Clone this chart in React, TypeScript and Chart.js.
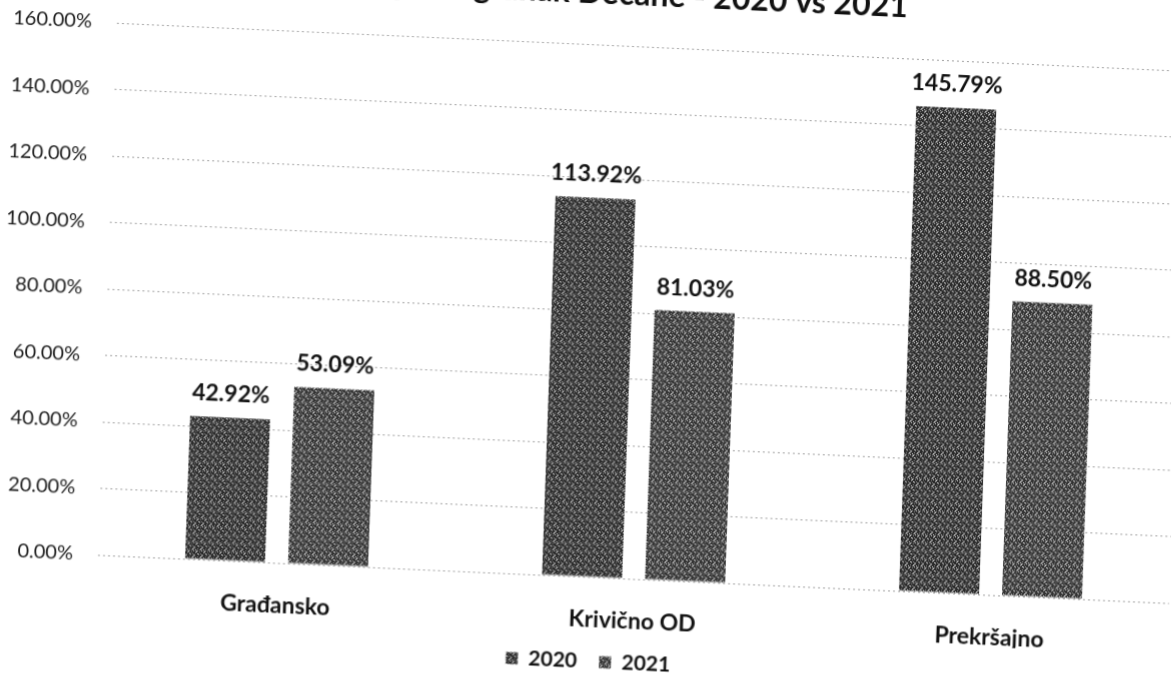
import React, { useEffect, useRef } from "react";
import { Chart, registerables } from "chart.js";

Chart.register(...registerables);

const categories = ["Građansko", "Krivično OD", "Prekršajno"];
const seriesNames = ["2020", "2021"];
const values2020 = [42.92, 113.92, 145.79];
const values2021 = [53.09, 81.03, 88.5];
const yMin = 0;
const yMax = 160;
const yStep = 20;
const titleText = "Stopa rešavanja - Ogranak Dečane - 2020 vs 2021";

const FONT = "Lato, 'Open Sans', sans-serif";

// canvas geometry (unskewed frame)
const CW = 1236;
const CH = 730;
const OX = 124; // skew origin inside canvas
const OY = 620;

function makePattern(base: string, mid: string, light: string): CanvasPattern | string {
  const c = document.createElement("canvas");
  c.width = 8;
  c.height = 8;
  const g = c.getContext("2d");
  if (!g) return base;
  g.fillStyle = base;
  g.fillRect(0, 0, 8, 8);
  for (let i = 0; i < 8; i++) {
    for (let j = 0; j < 8; j++) {
      if ((i * 3 + j * 5) % 7 === 0) {
        g.fillStyle = mid;
        g.fillRect(i, j, 1, 1);
      } else if ((i * 5 + j * 3) % 11 === 0) {
        g.fillStyle = light;
        g.fillRect(i, j, 1, 1);
      } else if ((i + j * 2) % 9 === 0) {
        g.fillStyle = mid;
        g.fillRect(i, j, 1, 1);
      }
    }
  }
  const p = g.createPattern(c, "repeat");
  return p || base;
}

const dataLabelPlugin = {
  id: "barValueLabels",
  afterDatasetsDraw(chart: any) {
    const ctx = chart.ctx;
    ctx.save();
    ctx.font = `bold 23px ${FONT}`;
    ctx.fillStyle = "#111";
    ctx.textAlign = "center";
    ctx.textBaseline = "alphabetic";
    chart.data.datasets.forEach((ds: any, di: number) => {
      const meta = chart.getDatasetMeta(di);
      meta.data.forEach((el: any, i: number) => {
        const v = ds.data[i] as number;
        ctx.fillText(v.toFixed(2) + "%", el.x, el.y - 16);
      });
    });
    ctx.restore();
  },
};

const titlePlugin = {
  id: "clippedTitle",
  afterDraw(chart: any) {
    const ctx = chart.ctx;
    const area = chart.chartArea;
    ctx.save();
    ctx.font = `bold 32px ${FONT}`;
    ctx.fillStyle = "#111";
    ctx.textAlign = "right";
    ctx.textBaseline = "alphabetic";
    ctx.fillText(titleText, area.left + 789, area.top - 41);
    ctx.restore();
  },
};

export default function App() {
  const ref = useRef<HTMLCanvasElement | null>(null);

  useEffect(() => {
    if (!ref.current) return;
    const p2020 = makePattern("#2a2a2a", "#8a8a8a", "#d8d8d8");
    const p2021 = makePattern("#323232", "#959595", "#dedede");
    const chart = new Chart(ref.current, {
      type: "bar",
      data: {
        labels: categories,
        datasets: [
          {
            label: seriesNames[0],
            data: values2020,
            backgroundColor: p2020 as any,
            borderWidth: 0,
            categoryPercentage: 0.577,
            barPercentage: 0.777,
          },
          {
            label: seriesNames[1],
            data: values2021,
            backgroundColor: p2021 as any,
            borderWidth: 0,
            categoryPercentage: 0.577,
            barPercentage: 0.777,
          },
        ],
      },
      options: {
        responsive: false,
        animation: false,
        devicePixelRatio: 1,
        layout: { padding: { top: OY - 532, left: 0, right: 10, bottom: 5 } },
        plugins: {
          title: { display: false },
          tooltip: { enabled: false },
          legend: {
            display: true,
            position: "bottom",
            labels: {
              font: { family: FONT, size: 21, weight: "bold" },
              color: "#111",
              boxWidth: 12,
              boxHeight: 12,
              padding: 22,
            },
          },
        },
        scales: {
          x: {
            grid: { display: false, drawTicks: false },
            border: { display: false },
            ticks: {
              font: { family: FONT, size: 23, weight: "bold" },
              color: "#111",
              padding: 29,
            },
            afterFit: (s: any) => {
              s.height = 52;
            },
          },
          y: {
            min: yMin,
            max: yMax,
            grid: {
              drawTicks: false,
              color: "#a0a0a0",
              lineWidth: 1,
            },
            border: { display: false, dash: [2, 3] },
            ticks: {
              stepSize: yStep,
              font: { family: FONT, size: 20 },
              color: "#1a1a1a",
              padding: 25,
              callback: (v: any) => Number(v).toFixed(2) + "%",
            },
            afterFit: (s: any) => {
              s.width = OX - 4;
            },
          },
          yPad: {
            position: "right",
            display: true,
            grid: { display: false, drawTicks: false },
            border: { display: false },
            ticks: { display: false },
            afterFit: (s: any) => {
              s.width = 35;
            },
          },
        },
      },
      plugins: [dataLabelPlugin, titlePlugin],
    });
    return () => chart.destroy();
  }, []);

  return (
    <div
      style={{
        position: "fixed",
        left: 0,
        top: 0,
        width: 1171,
        height: 681,
        overflow: "hidden",
        background: "#fff",
      }}
    >
      <canvas
        ref={ref}
        width={CW}
        height={CH}
        style={{
          position: "absolute",
          left: 102 - OX,
          top: 555 - OY,
          width: CW,
          height: CH,
          transform: "matrix(1, 0.045, -0.0356, 1, 0, 0)",
          transformOrigin: `${OX}px ${OY}px`,
        }}
      />
    </div>
  );
}
